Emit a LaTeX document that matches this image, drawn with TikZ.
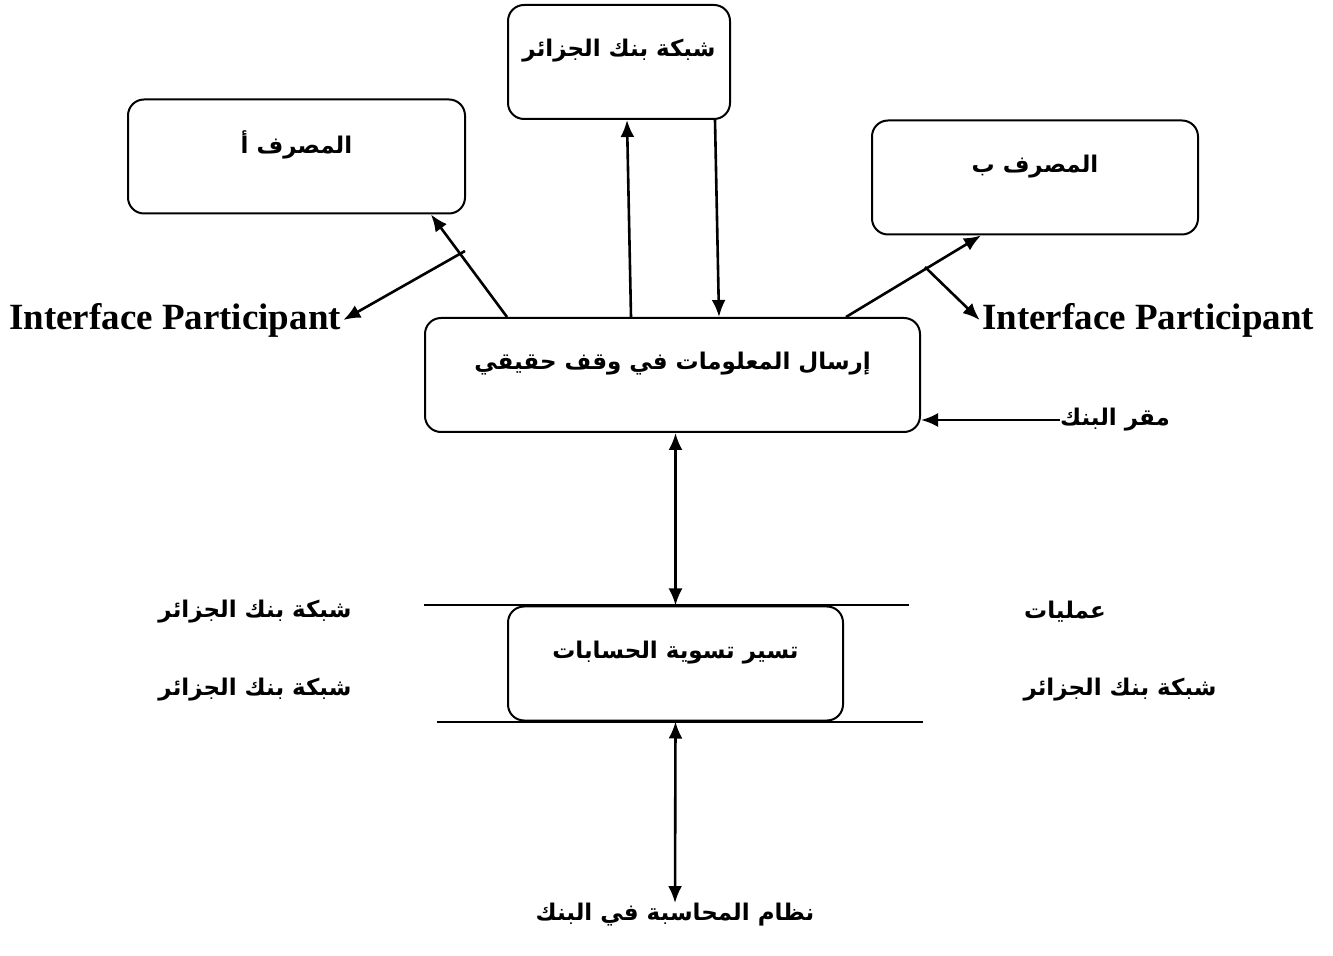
\documentclass[tikz,border=0pt]{standalone}
\usepackage{fontspec}
\setmainfont{Liberation Serif}
\newfontfamily\arabicfont[Script=Arabic]{DejaVu Sans}
\TeXXeTstate=1
\usetikzlibrary{arrows.meta, positioning}
\newcommand{\artext}[1]{{\arabicfont\bfseries\beginR #1\endR}}

\begin{document}
\begin{tikzpicture}[x=0.5pt, y=-0.5pt, >={Latex[length=8.5pt,width=7pt]}]
 % We define the styles for the boxes, the labels and the arrows
 \tikzset{
block/.style = {draw, rectangle, rounded corners=8pt, line width=1pt, minimum height=57pt, text depth=14pt, font=\fontsize{11.5}{14}\selectfont},
tag/.style = {inner sep=0pt, font=\fontsize{11.5}{14}\selectfont},
iface/.style = {inner sep=1pt, font=\bfseries\fontsize{18.5}{22}\selectfont},
line/.style = {draw, ->, line width=1.3pt},
}
 \useasboundingbox (0,0) rectangle (1333,956);

 % Bank of Algeria network block
 \node [block, minimum width=111pt] (algnet) at (619,62) {\artext{شبكة بنك الجزائر}};

 % Bank A and bank B blocks
 \node [block, minimum width=168.5pt] (banka) at (296.5,156.5) {\artext{المصرف أ}};
 \node [block, minimum width=163pt] (bankb) at (1035,177.5) {\artext{المصرف ب}};

 % Real time sending block
 \node [block, minimum width=247.5pt] (rtsend) at (672.5,375) {\artext{إرسال المعلومات في وقف حقيقي}};

 % Settlement block
 \node [block, minimum width=167.5pt] (settle) at (675.5,663.5) {\artext{تسير تسوية الحسابات}};

 % Labels round the blocks
 \node [iface] (ipleft) at (175,320) {Interface Participant};
 \node [iface] (ipright) at (1148,320) {Interface Participant};
 \node [tag] (hq) at (1115,420) {\artext{مقر البنك}};
 \node [tag] (netlt) at (255,612) {\artext{شبكة بنك الجزائر}};
 \node [tag] (netlb) at (255,690) {\artext{شبكة بنك الجزائر}};
 \node [tag] (ops) at (1065,612) {\artext{عمليات}};
 \node [tag] (netrb) at (1120,690) {\artext{شبكة بنك الجزائر}};
 \node [tag] (accsys) at (675,915) {\artext{نظام المحاسبة في البنك}};

 % Free ends of the interface arrows
 \coordinate (iltail) at (465,251);
 \coordinate (irtail) at (925,267);

 % Arrows between the blocks
 \draw [line] ([xshift=41.5pt]rtsend.north west) -- ([xshift=-17.5pt]banka.south east);
 \draw [line] (iltail) -- (ipleft.east);
 \draw [line] ([xshift=103.5pt]rtsend.north west) -- ([xshift=60pt]algnet.south west);
 \draw [line] ([xshift=104pt]algnet.south west) -- ([xshift=147.5pt]rtsend.north west);
 \draw [line] ([xshift=-37.5pt]rtsend.north east) -- ([xshift=55pt]bankb.south west);
 \draw [line] (irtail) -- (ipright.west);
 \draw [line] (hq.west) -- (hq.west -| rtsend.east);
 \draw [line, <->] (settle.north |- rtsend.south) -- (settle.north);
 \draw [line, <->] (settle.south) -- (accsys.north);

 % Lines above and below the settlement block
 \draw [line width=1pt] ([xshift=-41.5pt]settle.north west) -- ([xshift=32.5pt]settle.north east);
 \draw [line width=1pt] ([xshift=-35pt]settle.south west) -- ([xshift=39.5pt]settle.south east);

\end{tikzpicture}
\end{document}
